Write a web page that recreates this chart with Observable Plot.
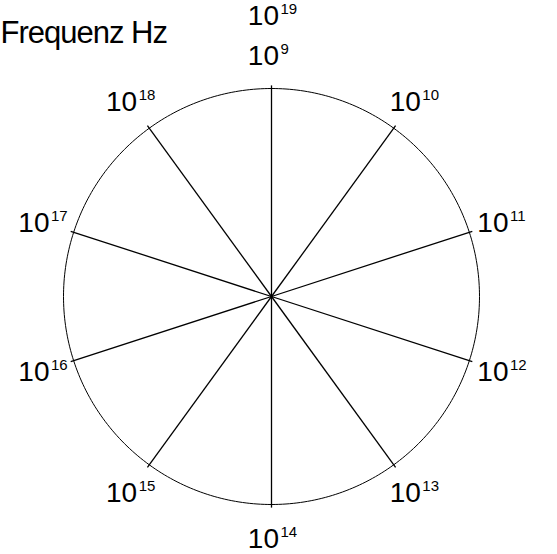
<!DOCTYPE html>
<html><head><meta charset="utf-8">
<script src="https://cdn.jsdelivr.net/npm/d3@7"></script>
<script src="https://cdn.jsdelivr.net/npm/@observablehq/plot@0.6"></script>
<style>body{margin:0;background:#fff} #chart svg{display:block}</style>
</head><body><div id="chart"></div>
<script>
// ---- data ----
const title = "Frequenz Hz";
const base = "10";
const exponents = [9, 10, 11, 12, 13, 14, 15, 16, 17, 18];
const anglesDeg = [0, 36, 72, 108, 144, 180, 216, 252, 288, 324];
const wrapExponent = 19;          // shares the 0° position with 10^9, one ring further out

// ---- layout ----
const W = 557, H = 554, cx = 271, cy = 296, R = 208;
const labelRadius = 1.16, ringStep = 0.195, spokeOver = 1.015;
const rad = d => d * Math.PI / 180;

const spokes = exponents.map((e, i) => ({exp: e, a: rad(anglesDeg[i])}));
const labels = [
  ...spokes.map(s => ({...s, ring: 0})),
  {exp: wrapExponent, a: rad(anglesDeg[0]), ring: 1}
];
const lx = d => Math.sin(d.a) * (labelRadius + d.ring * ringStep);
const ly = d => Math.cos(d.a) * (labelRadius + d.ring * ringStep);
const circle = d3.range(0, 361, 1).map(t => ({x: Math.sin(rad(t)), y: Math.cos(rad(t))}));

const font = "'Liberation Sans', Arial, Helvetica, sans-serif";

const chart = Plot.plot({
  width: W, height: H, margin: 0,
  x: {domain: [-cx / R, (W - cx) / R], axis: null},
  y: {domain: [-(H - cy) / R, cy / R], axis: null},
  style: {fontFamily: font, background: "white", color: "black"},
  marks: [
    Plot.line(circle, {x: "x", y: "y", stroke: "black", strokeWidth: 1}),
    Plot.link(spokes, {
      x1: d => 0, y1: d => 0,
      x2: d => Math.sin(d.a) * spokeOver, y2: d => Math.cos(d.a) * spokeOver,
      stroke: "black", strokeWidth: 1.3
    }),
    Plot.text(labels, {x: lx, y: ly, text: d => base, textAnchor: "end", lineAnchor: "bottom",
      dx: 7.5, dy: 10, fontSize: 28, fill: "black"}),
    Plot.text(labels, {x: lx, y: ly, text: d => String(d.exp), textAnchor: "start", lineAnchor: "bottom",
      dx: 9, dy: -1, fontSize: 15, fill: "black"}),
    Plot.text([title], {frameAnchor: "top-left", text: d => d, textAnchor: "start", lineAnchor: "bottom",
      dx: 0, dy: 42, fontSize: 31, fill: "black"})
  ]
});

chart.querySelectorAll("text").forEach(t => {
  if (t.textContent === title) t.setAttribute("letter-spacing", "-1");
});
document.getElementById("chart").appendChild(chart);
</script>
</body></html>
